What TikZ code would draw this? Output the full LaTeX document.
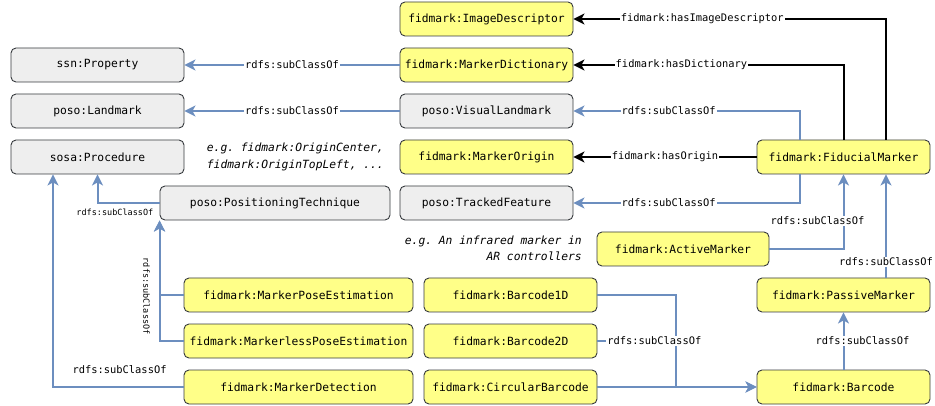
\documentclass[tikz,border=0pt]{standalone}
\usepackage{fontspec}
\setmonofont{DejaVu Sans Mono}
\usetikzlibrary{arrows.meta}
\definecolor{yel}{HTML}{FFFF88}
\definecolor{gry}{HTML}{EEEEEE}
\definecolor{bord}{HTML}{36393D}
\definecolor{blu}{HTML}{6C8EBF}
\tikzset{
  box/.style={draw=bord, line width=0.9pt, rounded corners=5pt, minimum width=173pt, minimum height=34pt, inner sep=0pt, font=\ttfamily\fontsize{11.3}{13}\selectfont},
  ybox/.style={box, fill=yel},
  gbox/.style={box, fill=gry},
  sub/.style={draw=blu, line width=2pt, -{Stealth[length=11pt,width=11pt,inset=3pt]}},
  subn/.style={draw=blu, line width=2pt},
  blk/.style={draw=black, line width=2pt, -{Stealth[length=11pt,width=11pt,inset=3pt]}},
  lbl/.style={fill=white, inner sep=1pt, font=\ttfamily\fontsize{10.4}{12}\selectfont},
  lbls/.style={inner sep=1pt, font=\ttfamily\fontsize{8.5}{10}\selectfont},
  note/.style={align=right, inner sep=0pt, font=\ttfamily\itshape\fontsize{11.3}{16.5}\selectfont}
}
\begin{document}
\begin{tikzpicture}[x=1pt,y=-1pt]
\useasboundingbox (0,0) rectangle (935,406);
% nodes
\node[ybox] (imgd) at (486.5,19) {fidmark:ImageDescriptor};
\node[ybox] (dict) at (486.5,65) {fidmark:MarkerDictionary};
\node[gbox] (prop) at (97.5,65) {ssn:Property};
\node[gbox] (land) at (97.5,111) {poso:Landmark};
\node[gbox] (vland) at (486.5,111) {poso:VisualLandmark};
\node[gbox] (proc) at (97.5,157) {sosa:Procedure};
\node[ybox] (orig) at (486.5,157) {fidmark:MarkerOrigin};
\node[gbox, minimum width=230pt] (pt) at (275,203) {poso:PositioningTechnique};
\node[gbox] (track) at (486.5,203) {poso:TrackedFeature};
\node[ybox] (fid) at (843.5,157) {fidmark:FiducialMarker};
\node[ybox, minimum width=172pt] (act) at (683,249) {fidmark:ActiveMarker};
\node[ybox] (pas) at (843.5,295) {fidmark:PassiveMarker};
\node[ybox] (bar) at (843.5,387) {fidmark:Barcode};
\node[ybox] (b1) at (510.5,295) {fidmark:Barcode1D};
\node[ybox] (b2) at (510.5,341) {fidmark:Barcode2D};
\node[ybox] (cb) at (510.5,387) {fidmark:CircularBarcode};
\node[ybox, minimum width=229pt] (mpe) at (298.5,295) {fidmark:MarkerPoseEstimation};
\node[ybox, minimum width=229pt] (mlpe) at (298.5,341) {fidmark:MarkerlessPoseEstimation};
\node[ybox, minimum width=229pt] (md) at (298.5,387) {fidmark:MarkerDetection};
% notes
\node[note, anchor=east] (n1) at (384,157) {e.g. fidmark:OriginCenter,\\fidmark:OriginTopLeft, ...};
\node[note, anchor=east] (n2) at (582,248.5) {e.g. An infrared marker in\\AR controllers};
% edges
\draw[sub] (dict.west) -- node[lbl]{rdfs:subClassOf} (prop.east);
\draw[sub] (vland.west) -- node[lbl]{rdfs:subClassOf} (land.east);
\draw[blk] ([xshift=42.5pt]fid.north) |- node[lbl, pos=0.794]{fidmark:hasImageDescriptor} (imgd.east);
\draw[blk] (fid.north) |- node[lbl, pos=0.80]{fidmark:hasDictionary} (dict.east);
\draw[sub] ([xshift=-43.5pt]fid.north) |- node[lbl, pos=0.79]{rdfs:subClassOf} (vland.east);
\draw[blk] (fid.west) -- node[lbl]{fidmark:hasOrigin} (orig.east);
\draw[sub] ([xshift=-43.5pt]fid.south) |- node[lbl, pos=0.79]{rdfs:subClassOf} (track.east);
\draw[sub] (act.east) -| node[lbl, pos=0.69, xshift=-26pt]{rdfs:subClassOf} (fid.south);
\draw[sub] ([xshift=42.5pt]pas.north) -- node[lbl, pos=0.15]{rdfs:subClassOf} ([xshift=42.5pt]fid.south);
\draw[sub] (bar.north) -- node[lbl, pos=0.5, xshift=19pt]{rdfs:subClassOf} (pas.south);
\draw[sub] (b1.east) -- ++(79,0) |- (bar.west);
\draw[sub] (cb.east) -- (bar.west);
\draw[subn] (b2.east) -- ++(79,0) node[lbl, pos=0.72]{rdfs:subClassOf};
\draw[sub] (pt.west) -| node[lbls, pos=0.36, yshift=-9pt]{rdfs:subClassOf} (proc.south);
\draw[sub] (mpe.west) -| (pt.south west);
\draw[sub] (mlpe.west) -| node[lbls, pos=0.686, xshift=-13pt, rotate=-90]{rdfs:subClassOf} (pt.south west);
\draw[sub] (md.west) -| node[lbl, fill=none, pos=0.245, yshift=17pt]{rdfs:subClassOf} ([xshift=-44.5pt]proc.south);
\end{tikzpicture}
\end{document}
